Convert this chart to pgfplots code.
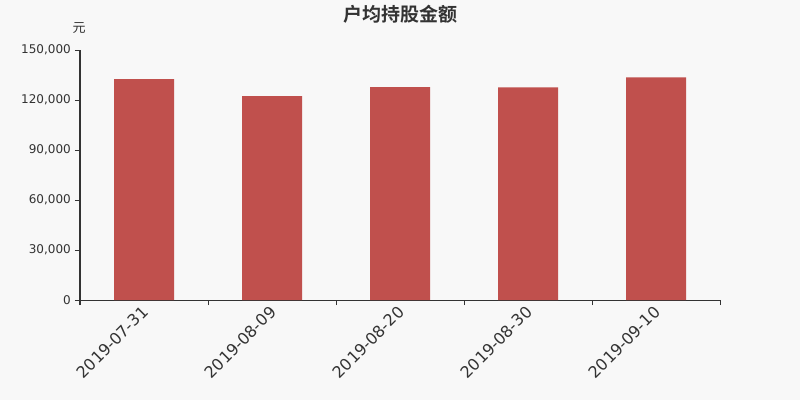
\documentclass[border=0pt]{standalone}
\usepackage{pgfplots}
\pgfplotsset{compat=1.18}
\usepackage{fontspec}
\setmainfont{DejaVu Sans}
\newfontfamily\cjk{Noto Sans CJK SC}
\newfontfamily\cjkbold{Noto Sans CJK SC Bold}
\definecolor{bg}{HTML}{F8F8F8}
\definecolor{barc}{HTML}{C0504D}
\definecolor{axc}{HTML}{333333}
\begin{document}
\begin{tikzpicture}[x=1pt,y=1pt]
\fill[bg] (0,0) rectangle (800,400);
\begin{axis}[
  at={(80pt,100pt)}, anchor=south west,
  scale only axis, width=640pt, height=250pt,
  xmin=-0.5, xmax=4.5, ymin=0, ymax=150000,
  axis x line*=bottom, axis y line*=left,
  axis line style={draw=axc, line width=1pt},
  ytick={0,30000,60000,90000,120000,150000},
  scaled y ticks=false,
  /pgf/number format/fixed,
  /pgf/number format/1000 sep={,},
  /pgf/number format/assume math mode=true,
  xtick={0,1,2,3,4},
  xticklabels={2019-07-31,2019-08-09,2019-08-20,2019-08-30,2019-09-10},
  minor xtick={-0.5,0.5,1.5,2.5,3.5,4.5},
  major x tick style={draw=none},
  tick align=outside,
  major tick length=5pt, minor tick length=5pt,
  tick style={draw=axc, line width=1pt},
  every tick label/.append style={text=axc},
  y tick label style={font=\fontsize{12}{14}\selectfont, inner sep=0pt, xshift=-4pt},
  x tick label style={font=\fontsize{16}{18}\selectfont, rotate=45, anchor=east, inner sep=0pt, yshift=-4pt, xshift=-2pt},
  ybar, bar width=60pt, bar shift=0pt,
]
\addplot[fill=barc, draw=none] coordinates {(0,132600) (1,122400) (2,127800) (3,127600) (4,133600)};
\end{axis}
\node[text=axc, font=\cjk\fontsize{13}{15}\selectfont] at (79,372) {元};
\node[text=axc, font=\cjkbold\fontsize{19}{21}\selectfont] at (400,386) {户均持股金额};
\end{tikzpicture}
\end{document}
